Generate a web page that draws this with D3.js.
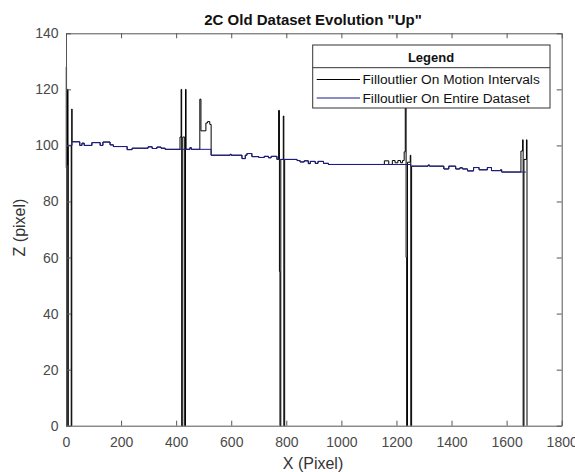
<!DOCTYPE html>
<html>
<head>
<meta charset="utf-8">
<script src="https://cdn.jsdelivr.net/npm/d3@7"></script>
<style>
  body { margin: 0; background: #fff; }
  text { font-family: "Liberation Sans", Arial, Helvetica, sans-serif; }
</style>
</head>
<body>
<div id="my_dataviz"></div>
<script>
// chart data [x, z]
const entireDataset = [
  [0, 100], [22, 101.3], [50, 100], [58, 100.8], [66, 100], [94, 101], [124, 100], [134, 101.2],
  [160, 100.2], [172, 99.6], [222, 98.5], [240, 99], [298, 99.5], [313, 98.9], [330, 99.4],
  [345, 99], [360, 98.6], [450, 99.2], [455, 98.6], [527, 96.5], [596, 96.8], [600, 96.5],
  [639, 95.3], [651, 96.5], [657, 97.1], [675, 96], [700, 95.7], [720, 96.1], [735, 95.6],
  [745, 96.1], [766, 95], [839, 94.6], [850, 94.1], [865, 94.5], [880, 93.5], [887, 94.3],
  [905, 93.6], [915, 94.3], [935, 93.6], [953, 93.2], [1252, 92.6], [1315, 93], [1320, 92.6],
  [1372, 91.6], [1390, 92.6], [1415, 91.6], [1430, 92], [1440, 91.6], [1458, 90.9], [1480, 92.1],
  [1500, 91.3], [1530, 92.1], [1545, 91], [1578, 91.3], [1582, 90.5], [1670, 90.5]
]

const motionIntervals = [
  [0, 92], [1, 128], [2, 0], [3, 120], [5, 93], [6, 120], [7, 0], [8, 100], [19, 0], [21, 113],
  [22, 101.3], [50, 100], [58, 100.8], [66, 100], [94, 101], [124, 100], [134, 101.2],
  [160, 100.2], [172, 99.6], [222, 98.5], [240, 99], [298, 99.5], [313, 98.9], [330, 99.4],
  [345, 99], [360, 98.6], [414, 103], [418, 120], [420, 0], [424, 103], [431, 0], [434, 120],
  [436, 98.6], [450, 99.2], [455, 98.6],
  [486, 116.5], [490, 105.2], [508, 108], [514, 108.5], [522, 107.5], [527, 96.5], [596, 96.8],
  [600, 96.5], [639, 95.3], [651, 96.5], [657, 97.1], [675, 96], [700, 95.7], [720, 96.1],
  [735, 95.6], [745, 96.1], [766, 95], [772, 112.5], [775, 55], [777, 0], [780, 95],
  [789, 110.5], [791, 0], [794, 95], [839, 94.6], [850, 94.1], [865, 94.5], [880, 93.5],
  [887, 94.3], [905, 93.6], [915, 94.3], [935, 93.6], [953, 93.2], [1156, 94.5], [1172, 93.2],
  [1185, 94.6], [1195, 93.8], [1205, 94.6], [1215, 93.8], [1222, 94.6], [1228, 97.7],
  [1232, 130], [1235, 60], [1237, 0], [1240, 94], [1250, 96.5], [1252, 0], [1255, 92.6],
  [1315, 93], [1320, 92.6], [1372, 91.6], [1390, 92.6], [1415, 91.6], [1430, 92], [1440, 91.6],
  [1458, 90.9], [1480, 92.1], [1500, 91.3], [1530, 92.1], [1545, 91], [1578, 91.3], [1582, 90.5],
  [1652, 98], [1658, 102], [1660, 0], [1663, 95], [1672, 102], [1674, 0]
]

const xTicks = [0, 200, 400, 600, 800, 1000, 1200, 1400, 1600, 1800]
const yTicks = [0, 20, 40, 60, 80, 100, 120, 140]
const legendLabels = ["Filloutlier On Motion Intervals", "Filloutlier On Entire Dataset"]
const seriesColors = ["#000000", "#1c1c8c"]

// set the dimensions of the graph
const W = 575, H = 472
const plot = {left: 66, right: 561.7, top: 33.3, bottom: 425.7}

const svg = d3.select("#my_dataviz")
  .append("svg")
  .attr("width", W)
  .attr("height", H)

const x = d3.scaleLinear().domain([0, 1800]).range([plot.left, plot.right])
const y = d3.scaleLinear().domain([0, 140]).range([plot.bottom, plot.top])

const axisColor = "#555"

// lines
const line = d3.line()
  .x(d => x(d[0]))
  .y(d => y(d[1]))
  .curve(d3.curveStepAfter)

svg.append("path")
  .datum(motionIntervals)
  .attr("d", line)
  .attr("fill", "none")
  .attr("stroke", seriesColors[0])
  .attr("stroke-width", 1)

svg.append("path")
  .datum(entireDataset)
  .attr("d", line)
  .attr("fill", "none")
  .attr("stroke", seriesColors[1])
  .attr("stroke-width", 1)

// axes (ticks inward, box all round)
function styleAxis(g) {
  g.select(".domain").attr("stroke", axisColor)
  g.selectAll(".tick line").attr("stroke", axisColor)
  g.selectAll(".tick text")
    .attr("fill", "#4a4a4a")
    .style("font-size", "14px")
    .style("font-family", "'Liberation Sans', Arial, sans-serif")
}

svg.append("g")
  .attr("transform", `translate(0,${plot.bottom})`)
  .call(d3.axisBottom(x).tickValues(xTicks).tickFormat(d3.format("d"))
    .tickSizeInner(-5).tickSizeOuter(0).tickPadding(11))
  .call(styleAxis)

svg.append("g")
  .attr("transform", `translate(${plot.left},0)`)
  .call(d3.axisLeft(y).tickValues(yTicks).tickFormat(d3.format("d"))
    .tickSizeInner(-5).tickSizeOuter(0).tickPadding(7.5))
  .call(styleAxis)

svg.append("g")
  .attr("transform", `translate(0,${plot.top})`)
  .call(d3.axisTop(x).tickValues(xTicks).tickSizeInner(-5).tickSizeOuter(0).tickFormat(""))
  .call(styleAxis)

svg.append("g")
  .attr("transform", `translate(${plot.right},0)`)
  .call(d3.axisRight(y).tickValues(yTicks).tickSizeInner(-5).tickSizeOuter(0).tickFormat(""))
  .call(styleAxis)

// title and axis labels
svg.append("text")
  .attr("x", 313)
  .attr("y", 25)
  .attr("text-anchor", "middle")
  .style("font-size", "15px")
  .style("font-weight", "bold")
  .attr("fill", "#111")
  .text('2C Old Dataset Evolution "Up"')

svg.append("text")
  .attr("x", 313)
  .attr("y", 469)
  .attr("text-anchor", "middle")
  .style("font-size", "16px")
  .attr("fill", "#333")
  .text("X (Pixel)")

svg.append("text")
  .attr("transform", "translate(25,227.5) rotate(-90)")
  .attr("text-anchor", "middle")
  .style("font-size", "16px")
  .attr("fill", "#333")
  .text("Z (pixel)")

// legend
const lg = svg.append("g")
lg.append("rect")
  .attr("x", 312.7).attr("y", 45)
  .attr("width", 237.3).attr("height", 63)
  .attr("fill", "#fff")
  .attr("stroke", "#333")
  .attr("stroke-width", 1)

lg.append("line")
  .attr("x1", 312.7).attr("x2", 550)
  .attr("y1", 67.7).attr("y2", 67.7)
  .attr("stroke", "#333")

lg.append("text")
  .attr("x", 431).attr("y", 62)
  .attr("text-anchor", "middle")
  .style("font-size", "13px")
  .style("font-weight", "bold")
  .attr("fill", "#111")
  .text("Legend")

legendLabels.forEach(function (label, i) {
  const ly = 79.5 + i * 18.5
  lg.append("line")
    .attr("x1", 316.7).attr("x2", 360)
    .attr("y1", ly).attr("y2", ly)
    .attr("stroke", seriesColors[i])
  lg.append("text")
    .attr("x", 362.5).attr("y", ly + 4.8)
    .style("font-size", "13.7px")
    .attr("fill", "#111")
    .text(label)
})
</script>
</body>
</html>
